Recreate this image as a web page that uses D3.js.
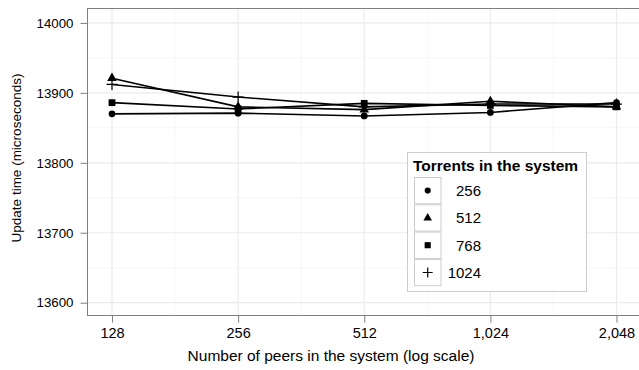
<!DOCTYPE html>
<html><head><meta charset="utf-8">
<script src="https://d3js.org/d3.v7.min.js"></script>
<style>body{margin:0;background:#fff}svg{display:block}text{font-family:"Liberation Sans",Arial,sans-serif}</style>
</head><body>
<svg id="c" width="639" height="370"></svg>
<script>
const peers = [128, 256, 512, 1024, 2048];
const xTickLabels = ["128", "256", "512", "1,024", "2,048"];
const yTicks = [13600, 13700, 13800, 13900, 14000];
const seriesNames = ["256", "512", "768", "1024"];
const t256 = [13870, 13871, 13867, 13872, 13886];
const t512 = [13921, 13880, 13876, 13888, 13880];
const t768 = [13886, 13877, 13885, 13882, 13880];
const t1024 = [13912, 13894, 13880, 13884, 13884];
const seriesValues = [t256, t512, t768, t1024];
const shapes = [d3.symbolCircle, d3.symbolTriangle, d3.symbolSquare, "plus"];

const svg = d3.select("#c");
const P = {l: 87.5, r: 645, t: 8.5, b: 315.5};
const x = d3.scaleLog().base(2).domain([128, 2048]).range([112, 616.5]);
const y = d3.scaleLinear().domain([13582.4, 14020.6]).range([315, 8.5]);

svg.append("rect").attr("x", P.l).attr("y", P.t).attr("width", P.r - P.l).attr("height", P.b - P.t).attr("fill", "#fff");

const g = svg.append("g");
const xMinor = [7.5, 8.5, 9.5, 10.5].map(e => Math.pow(2, e));
const yMinor = [13650, 13750, 13850, 13950];
g.selectAll(".xm").data(xMinor).enter().append("line")
  .attr("x1", d => x(d)).attr("x2", d => x(d)).attr("y1", P.t).attr("y2", P.b)
  .attr("stroke", "#f7f7f7").attr("stroke-width", 1);
g.selectAll(".ym").data(yMinor).enter().append("line")
  .attr("y1", d => y(d)).attr("y2", d => y(d)).attr("x1", P.l).attr("x2", P.r)
  .attr("stroke", "#f7f7f7").attr("stroke-width", 1);
g.selectAll(".xM").data(peers).enter().append("line")
  .attr("x1", d => x(d)).attr("x2", d => x(d)).attr("y1", P.t).attr("y2", P.b)
  .attr("stroke", "#ebebeb").attr("stroke-width", 1.2);
g.selectAll(".yM").data(yTicks).enter().append("line")
  .attr("y1", d => y(d)).attr("y2", d => y(d)).attr("x1", P.l).attr("x2", P.r)
  .attr("stroke", "#ebebeb").attr("stroke-width", 1.2);

const line = d3.line().x((d, i) => x(peers[i])).y(d => y(d));
seriesValues.forEach(vals => {
  svg.append("path").attr("d", line(vals)).attr("fill", "none")
    .attr("stroke", "#000").attr("stroke-width", 1.6);
});

function drawShape(sel, shape, cx, cy, scale) {
  scale = scale || 1;
  if (shape === "plus") {
    const h = 5.5 * scale;
    sel.append("path").attr("d", `M${cx - h},${cy}H${cx + h}M${cx},${cy - h}V${cy + h}`)
      .attr("stroke", "#000").attr("stroke-width", 1.2).attr("fill", "none");
  } else {
    const sizes = new Map([[d3.symbolCircle, 36], [d3.symbolTriangle, 40], [d3.symbolSquare, 46]]);
    sel.append("path").attr("d", d3.symbol().type(shape).size(sizes.get(shape) * scale * scale)())
      .attr("transform", `translate(${cx},${cy})`).attr("fill", "#000");
  }
}
seriesValues.forEach((vals, si) => {
  vals.forEach((v, i) => drawShape(svg, shapes[si], x(peers[i]), y(v)));
});

svg.append("rect").attr("x", P.l).attr("y", P.t).attr("width", P.r - P.l).attr("height", P.b - P.t)
  .attr("fill", "none").attr("stroke", "#7f7f7f").attr("stroke-width", 1);

const xAxis = d3.axisBottom(x).tickValues(peers).tickFormat((d, i) => xTickLabels[i]).tickSize(7).tickPadding(5);
const xa = svg.append("g").attr("transform", `translate(0,${P.b})`).call(xAxis);
xa.select(".domain").remove();
xa.selectAll("line").attr("stroke", "#7f7f7f");
xa.selectAll("text").attr("font-size", 14.5).attr("fill", "#000").attr("font-family", "Liberation Sans, Arial, sans-serif");

const yAxis = d3.axisLeft(y).tickValues(yTicks).tickFormat(d3.format("d")).tickSize(7).tickPadding(7);
const ya = svg.append("g").attr("transform", `translate(${P.l},0)`).call(yAxis);
ya.select(".domain").remove();
ya.selectAll("line").attr("stroke", "#7f7f7f");
ya.selectAll("text").attr("font-size", 13.3).attr("fill", "#000").attr("font-family", "Liberation Sans, Arial, sans-serif");

svg.append("text").attr("x", 331).attr("y", 361).attr("text-anchor", "middle")
  .attr("font-size", 15.5).text("Number of peers in the system (log scale)");
svg.append("text").attr("transform", "translate(21,158) rotate(-90)").attr("text-anchor", "middle")
  .attr("font-size", 13.5).text("Update time (microseconds)");

const L = {x: 407, y: 152, w: 179, h: 139};
svg.append("rect").attr("x", L.x + 0.5).attr("y", L.y + 0.5).attr("width", L.w).attr("height", L.h)
  .attr("fill", "#fff").attr("stroke", "#cccccc").attr("stroke-width", 1);
svg.append("text").attr("x", 413).attr("y", 171).attr("font-size", 15.5).attr("font-weight", "bold")
  .text("Torrents in the system");
seriesNames.forEach((name, i) => {
  const ky = 177 + i * 27.3;
  svg.append("rect").attr("x", 414.5).attr("y", ky + 0.5).attr("width", 26.5).attr("height", 26.3)
    .attr("fill", "#fff").attr("stroke", "#cccccc").attr("stroke-width", 1);
  drawShape(svg, shapes[i], 427.7, ky + 13.6, 0.9);
  svg.append("text").attr("x", 481).attr("y", ky + 19).attr("text-anchor", "end")
    .attr("font-size", 15).text(name);
});
</script>
</body></html>
